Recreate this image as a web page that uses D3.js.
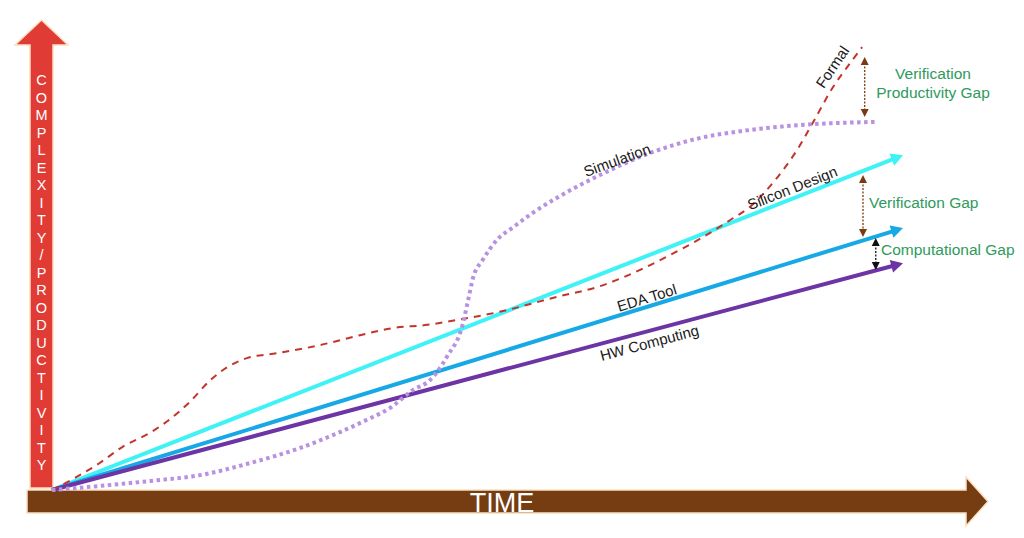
<!DOCTYPE html>
<html>
<head>
<meta charset="utf-8">
<script src="https://cdn.jsdelivr.net/npm/d3@7"></script>
<style>
  body { margin: 0; background: #fff; }
  svg { display: block; font-family: 'Liberation Sans', Arial, sans-serif; }
</style>
</head>
<body>
<svg width="1024" height="538"></svg>
<script>
// trends in (time, level) units, 0..100 both ways
var siliconDesign = [[0, 0], [100, 74.4]]
var edaTool = [[0, 0], [100, 58.2]]
var hwComputing = [[0, 0], [100, 50.4]]

var formal = [
  [0, 0], [2.9, 2.9], [5.6, 6.0], [8.3, 9.6], [11.5, 12.7], [13.9, 15.8],
  [16.2, 19.6], [18.6, 24.4], [20.6, 27.3], [22.9, 29.3], [26.4, 30.4],
  [31.5, 32.2], [36.2, 34.4], [40.1, 36.0], [44.1, 36.7], [47.6, 37.8],
  [52.6, 39.6], [59.3, 42.9], [64.4, 45.3], [69.1, 48.9], [72.6, 52.2],
  [76.5, 56.2], [79.7, 60.0], [82.0, 62.9], [84.0, 66.7], [86.1, 71.6],
  [87.7, 76.0], [89.4, 81.6], [91.8, 89.6], [93.8, 94.9], [95.2, 98.4]
]

var simulation = [
  [0, 0], [5.6, 0.9], [11.5, 2.0], [17.4, 3.3], [23.3, 6.0], [29.1, 9.3],
  [33.0, 12.2], [37.0, 15.6], [39.7, 18.2], [42.4, 22.2], [44.4, 24.4],
  [46.4, 29.6], [48.3, 37.1], [48.9, 42.2], [49.5, 47.3], [50.6, 51.1],
  [52.3, 55.6], [54.2, 58.4], [56.5, 61.6], [59.3, 64.9], [64.4, 70.0],
  [70.3, 74.9], [76.1, 78.2], [82.0, 80.0], [87.9, 81.1], [96.9, 81.8]
]

// text centre in data units, angle in degrees
var lineLabels = [
  { text: 'Simulation', x: 66.4, y: 73.3, angle: -20 },
  { text: 'Silicon Design', x: 87.0, y: 67.1, angle: -21.5 },
  { text: 'EDA Tool', x: 69.9, y: 42.7, angle: -17 },
  { text: 'HW Computing', x: 70.2, y: 32.7, angle: -15 },
  { text: 'Formal', x: 91.7, y: 94.0, angle: -56 }
]

// double headed gap arrows: x, y from, y to
var gaps = [
  { x: 95.5, y0: 82.9, y1: 96.2, color: '#7a3b12' },
  { x: 95.3, y0: 56.2, y1: 70.0, color: '#7a3b12' },
  { x: 96.8, y0: 48.9, y1: 56.0, color: '#111' }
]

var gapLabels = [
  { lines: ['Verification', 'Productivity Gap'], x: 933, y: 79, anchor: 'middle' },
  { lines: ['Verification Gap'], x: 869, y: 208, anchor: 'start' },
  { lines: ['Computational Gap'], x: 881, y: 255, anchor: 'start' }
]

var yTitle = 'COMPLEXITY/PRODUCTIVITY'.split('')
var xTitle = 'TIME'

let svg = d3.select('svg')

let x = d3.scaleLinear().domain([0, 100]).range([52, 903])
let y = d3.scaleLinear().domain([0, 100]).range([490, 40])

// big axis arrows
let vArrow = [[30, 488], [30, 45], [15, 45], [41.5, 20], [68, 45], [53, 45], [53, 488]]
let hArrow = [[27, 490], [966, 490], [966, 477], [988, 501.5], [966, 526], [966, 513], [27, 513]]

svg.append('polygon')
  .attr('points', vArrow.join(' '))
  .attr('fill', '#e03b34')
  .attr('stroke', '#fbe0c2')
  .attr('stroke-width', 1.5)

svg.append('polygon')
  .attr('points', hArrow.join(' '))
  .attr('fill', '#763c12')
  .attr('stroke', '#fbe0c2')
  .attr('stroke-width', 1.5)

let letterY = d3.scalePoint().domain(d3.range(yTitle.length)).range([80, 465])

svg.append('g')
  .selectAll('text')
  .data(yTitle)
  .enter().append('text')
  .attr('x', 41.5)
  .attr('y', (d, i) => letterY(i))
  .attr('dy', '0.35em')
  .attr('text-anchor', 'middle')
  .attr('fill', '#fff')
  .attr('font-size', 14.5)
  .text(d => d)

svg.append('text')
  .attr('x', 502)
  .attr('y', 512)
  .attr('text-anchor', 'middle')
  .attr('fill', '#fff')
  .attr('font-size', 27)
  .text(xTitle)

// straight trend arrows
let trends = [
  { data: siliconDesign, color: '#3ef2f5' },
  { data: edaTool, color: '#17a8e6' },
  { data: hwComputing, color: '#6c34a4' }
]

trends.forEach(t => {
  let p0 = [x(t.data[0][0]), y(t.data[0][1])]
  let p1 = [x(t.data[1][0]), y(t.data[1][1])]
  let a = Math.atan2(p1[1] - p0[1], p1[0] - p0[0])
  let back = 12
  let half = 6.5
  let bx = p1[0] - back * Math.cos(a)
  let by = p1[1] - back * Math.sin(a)

  svg.append('line')
    .attr('x1', p0[0]).attr('y1', p0[1])
    .attr('x2', bx + 2 * Math.cos(a)).attr('y2', by + 2 * Math.sin(a))
    .attr('stroke', t.color)
    .attr('stroke-width', 4)

  svg.append('polygon')
    .attr('points', [
      p1,
      [bx + half * Math.sin(a), by - half * Math.cos(a)],
      [bx - half * Math.sin(a), by + half * Math.cos(a)]
    ].join(' '))
    .attr('fill', t.color)
})

let line = d3.line()
  .x(d => x(d[0]))
  .y(d => y(d[1]))
  .curve(d3.curveMonotoneX)

svg.append('path')
  .datum(formal)
  .attr('d', line)
  .attr('fill', 'none')
  .attr('stroke', '#c2342c')
  .attr('stroke-width', 2)
  .attr('stroke-dasharray', '7,6')

svg.append('path')
  .datum(simulation)
  .attr('d', line)
  .attr('fill', 'none')
  .attr('stroke', '#b892e2')
  .attr('stroke-width', 4)
  .attr('stroke-dasharray', '3.5,3.5')

// labels along lines
svg.append('g')
  .selectAll('text')
  .data(lineLabels)
  .enter().append('text')
  .attr('transform', d => `translate(${x(d.x)},${y(d.y)}) rotate(${d.angle})`)
  .attr('dy', '0.35em')
  .attr('text-anchor', 'middle')
  .attr('font-size', 15)
  .attr('fill', '#1a1a1a')
  .text(d => d.text)

// gap arrows
gaps.forEach(g => {
  let gx = x(g.x)
  let top = y(g.y1)
  let bot = y(g.y0)
  svg.append('line')
    .attr('x1', gx).attr('x2', gx)
    .attr('y1', top + 6).attr('y2', bot - 6)
    .attr('stroke', g.color)
    .attr('stroke-width', 1.3)
    .attr('stroke-dasharray', '2,1.5')
  svg.append('polygon')
    .attr('points', [[gx, top], [gx - 4, top + 8], [gx + 4, top + 8]].join(' '))
    .attr('fill', g.color)
  svg.append('polygon')
    .attr('points', [[gx, bot], [gx - 4, bot - 8], [gx + 4, bot - 8]].join(' '))
    .attr('fill', g.color)
})

let gl = svg.append('g')
  .selectAll('text')
  .data(gapLabels)
  .enter().append('text')
  .attr('x', d => d.x)
  .attr('y', d => d.y)
  .attr('text-anchor', d => d.anchor)
  .attr('font-size', 15.5)
  .attr('fill', '#2f9a5c')

gl.selectAll('tspan')
  .data(d => d.lines.map(l => ({ l: l, x: d.x })))
  .enter().append('tspan')
  .attr('x', d => d.x)
  .attr('dy', (d, i) => i === 0 ? 0 : 19)
  .text(d => d.l)
</script>
</body>
</html>
